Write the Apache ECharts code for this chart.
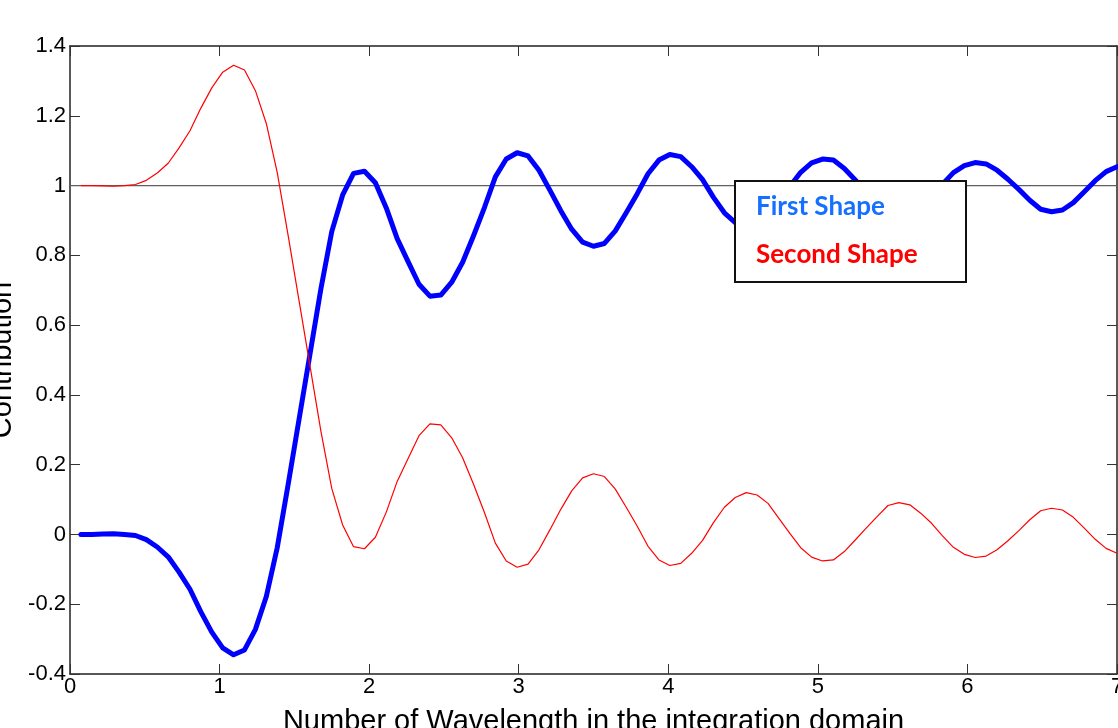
<!DOCTYPE html>
<html>
<head>
<meta charset="utf-8">
<script src="https://cdn.jsdelivr.net/npm/echarts@6/dist/echarts.min.js"></script>
<style>
html,body{margin:0;padding:0;background:#fff;}
#chart{width:1118px;height:728px;}
</style>
</head>
<body>
<div id="chart"></div>
<script>
// x positions of the sampled points (Number of Wavelength)
const xs = [0.0729,0.1458,0.2188,0.2917,0.3646,0.4375,0.5104,0.5833,0.6563,0.7292,
0.8021,0.875,0.9479,1.0208,1.0938,1.1667,1.2396,1.3125,1.3854,1.4583,
1.5313,1.6042,1.6771,1.75,1.8229,1.8958,1.9688,2.0417,2.1146,2.1875,
2.2604,2.3333,2.4063,2.4792,2.5521,2.625,2.6979,2.7708,2.8438,2.9167,
2.9896,3.0625,3.1354,3.2083,3.2813,3.3542,3.4271,3.5,3.5729,3.6458,
3.7188,3.7917,3.8646,3.9375,4.0104,4.0833,4.1563,4.2292,4.3021,4.375,
4.4479,4.5208,4.5938,4.6667,4.7396,4.8125,4.8854,4.9583,5.0313,5.1042,
5.1771,5.25,5.3229,5.3958,5.4688,5.5417,5.6146,5.6875,5.7604,5.8333,
5.9063,5.9792,6.0521,6.125,6.1979,6.2708,6.3438,6.4167,6.4896,6.5625,
6.6354,6.7083,6.7813,6.8542,6.9271,7];

// First Shape (blue, thick)
const firstShape = [0.000,0.000,0.001,0.002,0.000,-0.003,-0.015,-0.036,-0.064,-0.108,
-0.157,-0.222,-0.280,-0.325,-0.345,-0.331,-0.272,-0.178,-0.038,0.143,
0.330,0.516,0.703,0.868,0.973,1.035,1.041,1.008,0.936,0.848,
0.782,0.717,0.683,0.686,0.723,0.780,0.856,0.937,1.025,1.076,
1.094,1.085,1.044,0.987,0.928,0.875,0.838,0.826,0.834,0.870,
0.922,0.976,1.034,1.073,1.089,1.083,1.054,1.017,0.966,0.922,
0.894,0.880,0.887,0.911,0.954,0.997,1.038,1.065,1.076,1.073,
1.049,1.016,0.982,0.949,0.917,0.909,0.915,0.939,0.968,1.004,
1.037,1.057,1.066,1.062,1.044,1.018,0.989,0.958,0.932,0.925,
0.930,0.951,0.982,1.014,1.040,1.054];

// Second Shape (red, thin)
const secondShape = [1.000,1.000,0.999,0.998,1.000,1.003,1.015,1.036,1.064,1.108,
1.157,1.222,1.280,1.325,1.345,1.331,1.272,1.178,1.038,0.857,
0.670,0.484,0.297,0.132,0.027,-0.035,-0.041,-0.008,0.064,0.152,
0.218,0.283,0.317,0.314,0.277,0.220,0.144,0.063,-0.025,-0.076,
-0.094,-0.085,-0.044,0.013,0.072,0.125,0.162,0.174,0.166,0.130,
0.078,0.024,-0.034,-0.073,-0.089,-0.083,-0.054,-0.017,0.034,0.078,
0.106,0.120,0.113,0.089,0.046,0.003,-0.038,-0.065,-0.076,-0.073,
-0.049,-0.016,0.018,0.051,0.083,0.091,0.085,0.061,0.032,-0.004,
-0.037,-0.057,-0.066,-0.062,-0.044,-0.018,0.011,0.042,0.068,0.075,
0.070,0.049,0.018,-0.014,-0.040,-0.054];

// horizontal reference line
const refX = [0, 7];
const refY = [1, 1];

const seriesNames = ['First Shape', 'Second Shape'];
const xTitle = 'Number of Wavelength in the integration domain';
const yTitle = 'Contribution';

const pairs = (a, b) => a.map((v, i) => [v, b[i]]);

const axisCol = '#222';
const tickFont = {fontFamily: 'Liberation Sans', fontSize: 22, color: '#000'};

const chart = echarts.init(document.getElementById('chart'), null, {renderer: 'canvas'});
const common = {
  type: 'value',
  splitLine: {show: false},
  axisLine: {show: true, onZero: false, lineStyle: {color: axisCol, width: 1.5}},
  axisTick: {show: true, inside: true, length: 10, lineStyle: {color: '#333', width: 1}}
};
chart.setOption({
  animation: false,
  backgroundColor: '#fff',
  grid: {left: 70, right: 1, top: 46, bottom: 54, containLabel: false, outerBoundsMode: 'none'},
  xAxis: [
    Object.assign({}, common, {
      position: 'bottom', min: 0, max: 7, interval: 1,
      axisLabel: Object.assign({margin: 2}, tickFont),
      name: xTitle, nameLocation: 'middle', nameGap: 33,
      nameTextStyle: {fontFamily: 'Liberation Sans', fontSize: 29, color: '#000'}
    }),
    Object.assign({}, common, {
      position: 'top', min: 0, max: 7, interval: 1, axisLabel: {show: false}
    })
  ],
  yAxis: [
    Object.assign({}, common, {
      position: 'left', min: -0.4, max: 1.4, interval: 0.2,
      axisLabel: Object.assign({margin: 4}, tickFont),
      name: yTitle, nameLocation: 'middle', nameRotate: 90, nameGap: 49,
      nameTextStyle: {fontFamily: 'Liberation Sans', fontSize: 29, color: '#000'}
    }),
    Object.assign({}, common, {
      position: 'right', min: -0.4, max: 1.4, interval: 0.2, axisLabel: {show: false}
    })
  ],
  series: [
    {
      name: 'ref', type: 'line', z: 1, silent: true,
      data: pairs(refX, refY), symbol: 'none',
      lineStyle: {color: '#5f5f5f', width: 1.2}
    },
    {
      name: seriesNames[0], type: 'line', z: 2,
      data: pairs(xs, firstShape), symbol: 'none', smooth: false,
      lineStyle: {color: '#0000ff', width: 5, join: 'round', cap: 'round'}
    },
    {
      name: seriesNames[1], type: 'line', z: 3,
      data: pairs(xs, secondShape), symbol: 'none', smooth: false,
      lineStyle: {color: '#ff0000', width: 1.2}
    }
  ],
  graphic: [
    {type: 'rect', z: 100, shape: {x: 735, y: 181, width: 231, height: 101},
     style: {fill: '#ffffff', stroke: '#111', lineWidth: 2}},
    {type: 'text', z: 101, x: 756, y: 207,
     style: {text: seriesNames[0], fill: '#1670ff', font: 'bold 26px Lato', verticalAlign: 'middle', align: 'left'}},
    {type: 'text', z: 101, x: 756, y: 255,
     style: {text: seriesNames[1], fill: '#ff0000', font: 'bold 26px Lato', verticalAlign: 'middle', align: 'left'}}
  ]
});
</script>
</body>
</html>
